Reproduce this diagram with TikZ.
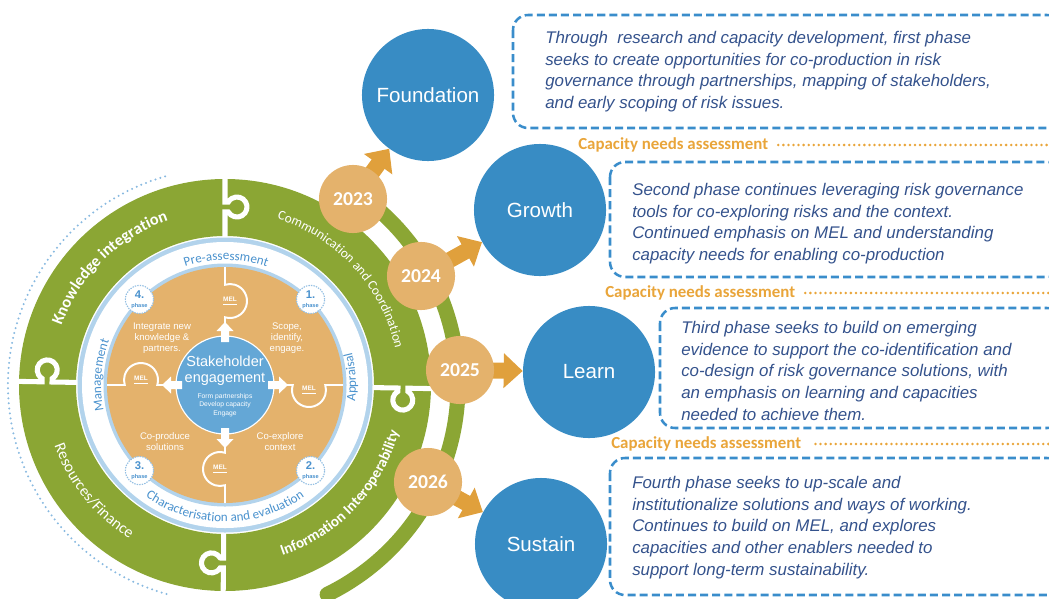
\documentclass[tikz,border=0pt]{standalone}
\usepackage{fontspec}
\setmainfont{Liberation Sans}
\newfontfamily\calib{Carlito}
\usetikzlibrary{arrows.meta, decorations.text, backgrounds, calc}

\definecolor{ringgreen}{RGB}{139,166,52}
\definecolor{discorange}{RGB}{228,178,108}
\definecolor{arroworange}{RGB}{224,160,60}
\definecolor{caporange}{RGB}{233,165,58}
\definecolor{phaseblue}{RGB}{56,140,196}
\definecolor{coreblue}{RGB}{100,167,214}
\definecolor{ringblue}{RGB}{178,211,236}
\definecolor{labelblue}{RGB}{74,146,206}
\definecolor{textblue}{RGB}{52,82,140}
\definecolor{dashblue}{RGB}{58,141,203}

\tikzset{
  stagecircle/.style={circle, fill=phaseblue, text=white, inner sep=0pt, minimum size=93.9pt,
    font=\fontsize{14.6}{16}\selectfont},
  yearcircle/.style={circle, fill=discorange, text=white, inner sep=0pt, minimum size=48.4pt,
    font=\calib\bfseries\fontsize{14}{16}\selectfont},
  yeararrow/.style={arroworange, line width=11.4pt, -{Triangle[length=13.5pt, width=24pt]}},
  stagebox/.style={dashblue, line width=1.8pt, dash pattern=on 5.7pt off 2.9pt, rounded corners=10.7pt},
  boxtext/.style={anchor=north west, inner sep=0pt, align=left, text=textblue,
    font=\itshape\fontsize{12}{15.4}\selectfont},
  capacity/.style={anchor=west, inner sep=0pt, text=caporange,
    font=\calib\bfseries\fontsize{12}{14}\selectfont},
  capdots/.style={caporange, line width=2pt, line cap=round, dash pattern=on 0pt off 3.6pt},
  gapline/.style={white, line width=3.6pt},
  melline/.style={white, line width=1.4pt},
  mellabel/.style={inner sep=0pt, text=white, font=\bfseries\fontsize{4.6}{5}\selectfont},
  badge/.style={circle, fill=white, draw=ringblue!70!labelblue, line width=0.8pt,
    dash pattern=on 1pt off 0.8pt, minimum size=20pt, inner sep=0pt, text=labelblue,
    align=center, font=\bfseries\fontsize{4}{6.5}\selectfont},
  quadtext/.style={inner sep=0pt, text=white, align=center, font=\fontsize{6.8}{7.8}\selectfont},
}

\begin{document}
\begin{tikzpicture}[x=0.025cm, y=0.025cm]
  \useasboundingbox (0,0) rectangle (1049,-598);
  \clip (0,0) rectangle (1049,-598);

  \coordinate (C) at (225,-385);
  \coordinate (rightedge) at (1049,0);

  \def\ringtext#1#2#3#4#5{\path[decorate, decoration={text along path, text align=center, text={|#4|#5}}] (C) ++(#2:#1) arc[start angle=#2, end angle=#3, radius=#1];}

  % green ring
  \draw[ringblue!60!labelblue, line width=1.6pt, line cap=round, dash pattern=on 0pt off 3.6pt] (C) ++(106:217) arc[start angle=106, end angle=255, radius=217];
  \fill[ringgreen, even odd rule] (C) circle[radius=206] (C) circle[radius=149];
  \draw[ringgreen, line width=10.7pt, line cap=round] (C) ++(55:233) arc[start angle=55, end angle=-64, radius=233];
  \foreach \ang in {90,179,-1,269.5}
    \draw[gapline, shift={(C)}, rotate=\ang] (145,0) -- (173,0) -- (173,-3.34) arc[start angle=120, end angle=420, radius=10] -- (183,0) -- (210,0);

  % phase disc
  \fill[ringblue] (C) circle[radius=147.5];
  \fill[white] (C) circle[radius=143];
  \fill[ringblue] (C) circle[radius=121.5];
  \fill[discorange] (C) circle[radius=118];
  \foreach \ang in {90,0,-90,180} {
    \draw[melline, shift={(C)}, rotate=\ang] (48,0) -- (67.75,0) arc[start angle=162.9, end angle=377.1, radius=17] -- (118,0);
    \path[shift={(C)}, rotate=\ang] (84,-5) node[mellabel] (mel\ang) {\underline{MEL}};
  }

  \node[circle, fill=coreblue, draw=white, line width=0.8pt, minimum size=69.7pt, inner sep=0pt] (core) at (C) {};
  \foreach \ang in {90,0,-90,180}
    \fill[white, shift={(C)}, rotate=\ang] (43,-4) -- (54,-4) -- (54,-8.5) -- (63,0) -- (54,8.5) -- (54,4) -- (43,4) -- cycle;
  \node[inner sep=0pt, text=white, align=center, font=\fontsize{10.3}{11.5}\selectfont] (coretitle) at (225,-371) {Stakeholder\\engagement};
  \node[inner sep=0pt, text=white, align=center, font=\fontsize{4.8}{6}\selectfont] (coresub) at (225,-405) {Form partnerships\\Develop capacity\\Engage};

  \node[quadtext] (q1) at (287,-338) {Scope,\\identify,\\engage.};
  \node[quadtext] (q2) at (280,-442) {Co-explore\\context};
  \node[quadtext] (q3) at (165,-442) {Co-produce\\solutions};
  \node[quadtext] (q4) at (162,-338) {Integrate new\\knowledge \&\\partners.};

  \foreach \n/\ang in {1/45, 2/-45, 3/-135, 4/135}
    \node[badge] (badge\n) at ($(C)+(\ang:121)$) {{\fontsize{8}{8}\selectfont\n.}\\phase};

  \ringtext{125}{124.5}{54.5}{\calib\fontsize{9.3}{11}\selectfont\color{labelblue}}{Pre-assessment}
  \ringtext{131}{-36.4}{43.6}{\calib\fontsize{9.3}{11}\selectfont\color{labelblue}}{Appraisal}
  \ringtext{137}{225}{315}{\calib\fontsize{9.3}{11}\selectfont\color{labelblue}}{Characterisation and evaluation}
  \ringtext{124}{215.5}{135.5}{\calib\fontsize{9.3}{11}\selectfont\color{labelblue}}{Management}
  \ringtext{174}{170}{99}{\calib\bfseries\fontsize{11.6}{13}\selectfont\color{white}}{Knowledge integration}
  \ringtext{174}{80}{4.6}{\calib\fontsize{9.5}{11}\selectfont\color{white}}{Communication and Coordination}
  \ringtext{180}{-85}{-1.6}{\calib\bfseries\fontsize{10.7}{12}\selectfont\color{white}}{Information Interoperability}
  \ringtext{181}{185}{252.8}{\calib\fontsize{11.3}{13}\selectfont\color{white}}{Resources/Finance}

  % years and phases
  \node[yearcircle] (y2023) at (353,-199) {2023};
  \node[yearcircle] (y2024) at (421,-276) {2024};
  \node[yearcircle] (y2025) at (460,-370) {2025};
  \node[yearcircle] (y2026) at (428,-482) {2026};

  \node[stagecircle] (found) at (428,-95) {Foundation};
  \node[stagecircle] (growth) at (540,-210) {Growth};
  \node[stagecircle] (learn) at (589,-372) {Learn};
  \node[stagecircle] (sustain) at (541,-544) {Sustain};

  \begin{pgfonlayer}{background}
    \draw[yeararrow] (y2023.center) -- (found);
    \draw[yeararrow] (y2024.center) -- (growth);
    \draw[yeararrow] (y2025.center) -- (learn);
    \draw[yeararrow] (y2026.center) -- (sustain);
  \end{pgfonlayer}

  % descriptions
  \draw[stagebox] (513,-15) rectangle (1062,-128);
  \draw[stagebox] (610,-162) rectangle (1062,-277);
  \draw[stagebox] (660,-308) rectangle (1062,-428);
  \draw[stagebox] (610,-458) rectangle (1062,-595);

  \node[boxtext] (text1) at (545,-31) {Through\ \ research and capacity development, first phase\\seeks to create opportunities for co-production in risk\\governance through partnerships, mapping of stakeholders,\\and early scoping of risk issues.};
  \node[boxtext] (text2) at (632,-183) {Second phase continues leveraging risk governance\\tools for co-exploring risks and the context.\\Continued emphasis on MEL and understanding\\capacity needs for enabling co-production};
  \node[boxtext] (text3) at (681,-321) {Third phase seeks to build on emerging\\evidence to support the co-identification and\\co-design of risk governance solutions, with\\an emphasis on learning and capacities\\needed to achieve them.};
  \node[boxtext] (text4) at (632,-476) {Fourth phase seeks to up-scale and\\institutionalize solutions and ways of working.\\Continues to build on MEL, and explores\\capacities and other enablers needed to\\support long-term sustainability.};

  \node[capacity] (cap1) at (578,-145) {Capacity needs assessment};
  \node[capacity] (cap2) at (605,-293) {Capacity needs assessment};
  \node[capacity] (cap3) at (611,-444) {Capacity needs assessment};
  \draw[capdots] ([xshift=7pt]cap1.east) -- (cap1.east -| rightedge);
  \draw[capdots] ([xshift=7pt]cap2.east) -- (cap2.east -| rightedge);
  \draw[capdots] ([xshift=10pt]cap3.east) -- (cap3.east -| rightedge);
\end{tikzpicture}
\end{document}
